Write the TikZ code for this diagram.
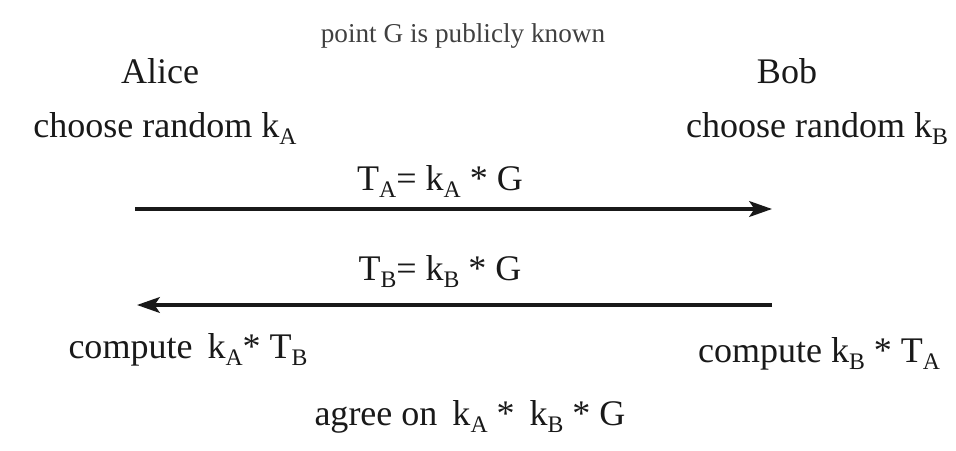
\documentclass[tikz,border=0pt]{standalone}
\usepackage{fontspec}
\setmainfont{Liberation Serif}
\usetikzlibrary{arrows.meta,positioning}
\newcommand{\lsub}[1]{\raisebox{-4pt}{\fontsize{13.5}{14}\selectfont #1}}

\begin{document}
\begin{tikzpicture}[x=0.02cm, y=-0.02cm,
    txt/.style={font=\fontsize{20.5}{24}\selectfont, text=black!90, inner sep=0pt, anchor=base},
    note/.style={font=\fontsize{15.5}{18}\selectfont, text=black!75, inner sep=0pt, anchor=base},
    msg/.style={-{Stealth[length=13pt, width=9pt, inset=3pt]}, line width=1.8pt, black!90}]
  \useasboundingbox (0,0) rectangle (956,450);

  % shared parameter
  \node[note] (known) at (463,42) {point G is publicly known};

  % Alice
  \node[txt] (alice) at (160,83) {Alice};
  \node[txt] (pickA) at (165,137) {choose random k\lsub{A}};

  % Bob
  \node[txt] (bob) at (787,83) {Bob};
  \node[txt] (pickB) at (817,137) {choose random k\lsub{B}};

  % Alice -> Bob
  \coordinate (sendA) at (135,209);
  \coordinate (recvB) at (772,209);
  \node[txt] (TA) at (440,190) {T\lsub{A}= k\lsub{A} * G};
  \draw[msg] (sendA) -- (recvB);

  % Bob -> Alice
  \coordinate (sendB) at (772,305);
  \coordinate (recvA) at (137,305);
  \node[txt] (TB) at (440,280) {T\lsub{B}= k\lsub{B} * G};
  \draw[msg] (sendB) -- (recvA);

  % shared secret
  \node[txt] (compA) at (188,358) {compute\, k\lsub{A}* T\lsub{B}};
  \node[txt] (compB) at (819,362) {compute k\lsub{B} * T\lsub{A}};
  \node[txt] (agree) at (470,425) {agree on\, k\lsub{A} *\, k\lsub{B} * G};
\end{tikzpicture}
\end{document}
